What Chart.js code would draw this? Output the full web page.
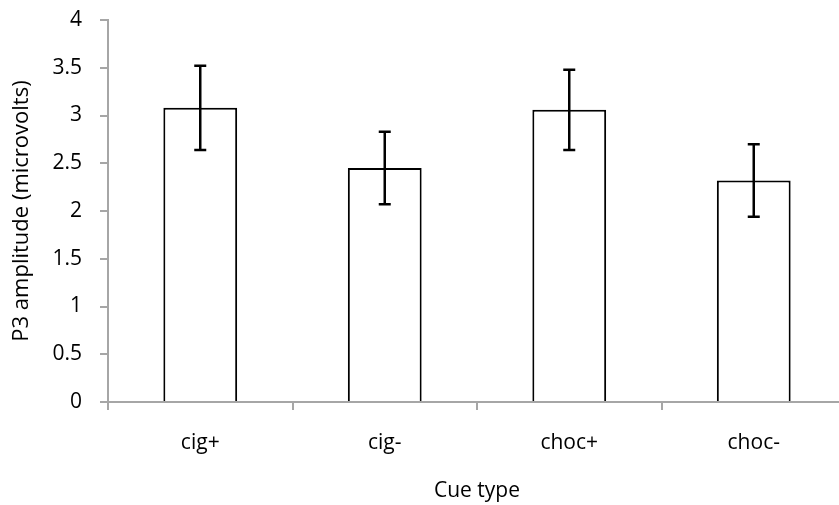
<!DOCTYPE html>
<html>
<head>
<meta charset="utf-8">
<script src="https://cdn.jsdelivr.net/npm/chart.js@4"></script>
<style>
  html, body { margin: 0; padding: 0; background: #fff; }
  #wrap { width: 839px; height: 505px; overflow: hidden; }
  canvas { display: block; }
</style>
</head>
<body>
<div id="wrap"><canvas id="chart" width="847" height="505"></canvas></div>
<script>
const categories = ["cig+", "cig-", "choc+", "choc-"];
const amplitudes = [3.08, 2.45, 3.06, 2.32];
const errors = [0.44, 0.38, 0.42, 0.38];

const axisGrey = "#a6a6a6";
const font = { family: "'Open Sans', sans-serif", size: 21 };

// draws the +/- error whiskers over every bar
const errorBars = {
    id: "errorBars",
    afterDatasetsDraw(chart) {
        const { ctx, scales: { x, y } } = chart;
        ctx.save();
        ctx.strokeStyle = "#000";
        ctx.lineWidth = 2.5;
        amplitudes.forEach((v, i) => {
            const cx = x.getPixelForValue(i);
            const top = y.getPixelForValue(v + errors[i]);
            const bot = y.getPixelForValue(v - errors[i]);
            ctx.beginPath();
            ctx.moveTo(cx, top);
            ctx.lineTo(cx, bot);
            ctx.moveTo(cx - 6, top);
            ctx.lineTo(cx + 6, top);
            ctx.moveTo(cx - 6, bot);
            ctx.lineTo(cx + 6, bot);
            ctx.stroke();
        });
        ctx.restore();
    },
};

new Chart(document.getElementById("chart"), {
    type: "bar",
    data: {
        labels: categories,
        datasets: [
            {
                data: amplitudes,
                backgroundColor: "#fff",
                borderColor: "#000",
                borderWidth: 2,
                borderSkipped: "start",
                barPercentage: 0.4,
                categoryPercentage: 1,
            },
        ],
    },
    options: {
        responsive: false,
        animation: false,
        events: [],
        layout: { padding: { top: 20, right: 1, bottom: 0, left: 0 } },
        plugins: { legend: { display: false }, tooltip: { enabled: false } },
        scales: {
            x: {
                afterFit: (s) => { s.height = 103; s.paddingLeft = 0; s.paddingRight = 0; },
                grid: { drawOnChartArea: false, drawTicks: true, tickLength: 8, color: axisGrey, lineWidth: 2, offset: true },
                border: { color: axisGrey, width: 2 },
                ticks: { color: "#000", font, padding: 20 },
                title: { display: true, text: "Cue type", color: "#000", font, padding: { top: 0, bottom: 1 } },
            },
            y: {
                min: 0,
                max: 4,
                afterFit: (s) => { s.width = 108; s.paddingTop = 0; s.paddingBottom = 0; },
                grid: { drawOnChartArea: false, drawTicks: true, tickLength: 8, color: axisGrey, lineWidth: 2 },
                border: { color: axisGrey, width: 2 },
                ticks: { stepSize: 0.5, color: "#000", font, padding: 18, callback: (v) => String(v) },
                title: { display: true, text: "P3 amplitude (microvolts)", color: "#000", font: { ...font, size: 22 }, padding: { top: 9, bottom: 0 } },
            },
        },
    },
    plugins: [errorBars],
});
</script>
</body>
</html>
